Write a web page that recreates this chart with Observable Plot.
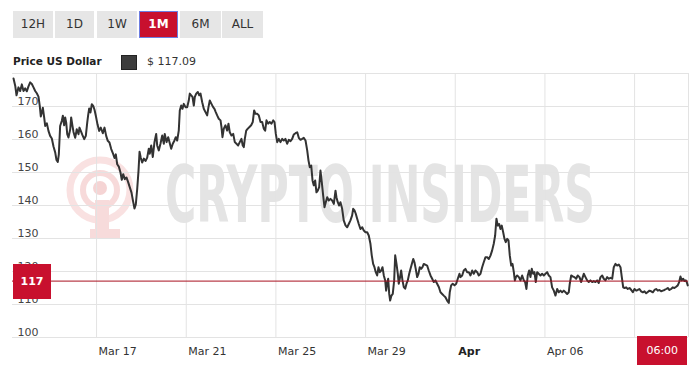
<!DOCTYPE html>
<html><head><meta charset="utf-8">
<script src="https://cdn.jsdelivr.net/npm/d3@7"></script>
<script src="https://cdn.jsdelivr.net/npm/@observablehq/plot@0.6"></script>
<style>
body{margin:0;background:#fff;font-family:"DejaVu Sans",Verdana,sans-serif;}
#wrap{position:relative;width:700px;height:368px;overflow:hidden;background:#fff;}
.btn{position:absolute;top:11px;height:27px;line-height:27px;background:#e6e6e6;color:#333;font-size:12px;text-align:center;box-sizing:border-box;}
.btn.on{background:#c8102e;color:#fff;font-weight:bold;border:1px solid #6d7de0;line-height:25px;}
#legend{position:absolute;left:13px;top:54px;height:16px;font-size:11px;color:#222;}
#legend .t{position:absolute;left:0;top:1px;font-weight:bold;white-space:nowrap;font-size:10.5px;}
#legend .sw{position:absolute;left:108px;top:1px;width:16px;height:15px;background:#3c3c3c;box-sizing:border-box;border:1px solid #222;}
#legend .v{position:absolute;left:134px;top:1px;white-space:nowrap;color:#333;}
#wm{position:absolute;left:0;top:0;}
#chart{position:absolute;left:0;top:73px;}
.tag{position:absolute;background:#c8102e;color:#fff;font-size:11px;text-align:center;}
</style></head>
<body><div id="wrap">
<div class="btn" style="left:13px;width:40px">12H</div>
<div class="btn" style="left:55px;width:39px">1D</div>
<div class="btn" style="left:97px;width:40px">1W</div>
<div class="btn on" style="left:139px;width:39px">1M</div>
<div class="btn" style="left:180px;width:41px">6M</div>
<div class="btn" style="left:222px;width:41px">ALL</div>
<div id="legend"><span class="t">Price US Dollar</span><span class="sw"></span><span class="v"></span></div>
<svg id="wm" width="700" height="368">
  <g opacity="0.42">
    <circle cx="100" cy="190" r="30" fill="none" stroke="#f2b8b8" stroke-width="7"/>
    <circle cx="100" cy="190" r="17" fill="none" stroke="#eea8a8" stroke-width="6"/>
    <circle cx="100" cy="188" r="7" fill="#e99a9a"/>
    <rect x="95" y="200" width="14" height="32" fill="#eeaaaa"/>
    <rect x="90" y="229" width="30" height="9" fill="#eeaaaa"/>
  </g>
  <text transform="translate(165,222) scale(1,1.65)" x="0" y="0" textLength="430" lengthAdjust="spacingAndGlyphs" font-family="DejaVu Sans Condensed, DejaVu Sans" font-weight="bold" font-size="47" fill="#e4e4e4">CRYPTO INSIDERS</text>
</svg>
<div id="chart"></div>
</div>
<script>
// Price series: [hours since 13 Mar 06:00, price in USD]
const series = [
[1.1,178.5],[2.9,176.3],[4.3,173.4],[6.4,175.8],[8.2,174.7],[10.0,176.7],[11.8,174.7],[13.6,175.5],[15.3,174.6],[17.1,176.1],
[18.9,177.3],[20.7,176.8],[22.5,175.8],[24.3,174.7],[26.0,174.0],[27.8,173.0],[29.2,170.2],[30.3,167.0],[31.4,168.2],[32.5,169.6],
[33.9,166.7],[35.0,164.1],[36.8,164.9],[38.5,162.6],[40.3,161.1],[42.1,160.3],[43.9,157.9],[45.7,156.1],[47.1,153.8],[48.5,153.2],
[49.6,155.5],[51.0,164.1],[52.8,165.7],[53.9,167.2],[55.3,164.3],[56.4,166.7],[57.5,165.1],[58.6,161.6],[59.9,160.6],[61.8,163.1],
[62.8,166.7],[64.2,164.1],[65.3,162.3],[67.1,160.5],[68.8,163.1],[70.7,161.6],[71.7,163.6],[73.1,162.6],[74.9,161.3],[76.8,160.1],
[78.5,161.1],[80.0,165.1],[81.0,167.4],[82.1,169.4],[83.5,168.2],[84.9,170.7],[86.4,170.2],[87.8,169.0],[89.2,167.2],[91.0,164.6],
[92.8,162.6],[94.5,163.6],[96.7,161.9],[98.5,163.6],[100.3,161.1],[102.0,159.6],[103.8,159.1],[105.7,157.1],[107.4,155.9],[109.2,154.4],
[110.6,155.5],[112.1,152.5],[113.8,151.8],[115.6,150.0],[117.0,147.8],[118.5,149.5],[120.2,148.0],[122.0,148.5],[123.9,147.0],[125.6,145.5],
[127.4,143.9],[129.2,141.1],[130.6,139.1],[132.0,140.3],[133.5,145.0],[134.9,150.5],[136.0,156.3],[137.3,154.5],[138.8,153.0],[140.6,154.2],
[142.4,153.5],[144.2,154.5],
[145.9,157.2],[147.0,155.7],[148.5,158.2],[150.2,154.7],[152.0,159.2],[153.8,161.7],[154.9,158.2],[156.6,156.7],[158.4,158.7],[160.3,161.2],
[162.0,158.7],[163.0,161.7],[164.9,159.2],[166.7,160.7],[168.1,159.2],[169.9,157.2],[171.6,158.7],[173.4,159.7],[174.8,160.7],[176.3,159.7],
[178.0,162.7],[179.1,168.8],[180.6,170.3],[182.0,169.3],[183.4,170.8],[185.2,169.8],[187.0,169.8],[188.7,171.8],[189.8,173.9],[191.3,173.4],
[192.7,172.9],[194.1,170.3],[195.2,172.9],[196.7,173.9],[198.4,174.4],[199.9,173.4],[201.3,173.9],[203.1,171.3],[204.8,169.3],[206.6,168.3],
[208.4,167.3],[209.8,169.8],[211.2,171.8],[213.0,170.8],[214.8,169.8],[216.2,169.3],[217.6,168.3],[219.1,167.3],[220.8,166.3],[222.7,165.8],
[223.7,163.8],[224.8,160.7],[226.2,163.3],[228.0,164.3],[229.8,162.7],[231.2,164.8],[232.6,162.2],[234.4,161.2],[236.3,161.7],[238.0,159.2],
[239.8,158.7],[241.6,158.2],[243.3,159.2],[245.1,160.2],[246.5,158.2],[247.6,157.7],[248.7,160.2],[250.2,162.7],[251.9,163.3],[253.7,163.8],
[255.5,164.3],[257.2,165.3],[258.7,168.8],[260.1,167.8],[261.9,167.8],[263.7,167.3],[265.5,165.3],[267.3,165.3],[269.0,163.3],[270.5,162.7],
[271.9,165.8],[273.7,164.8],[275.4,165.3],[277.3,164.8],[279.1,165.8],[280.5,165.3],[281.9,161.7],[283.4,159.2],[285.1,160.2],[286.9,159.2],
[288.7,160.2],[290.4,159.7],[292.2,160.2],[294.0,158.7],
[295.8,159.9],[297.6,159.5],[299.4,160.2],[301.1,161.5],[303.0,161.9],[304.8,162.2],[306.5,160.5],[308.3,159.9],[310.1,160.2],[311.8,160.5],
[313.7,159.7],[315.5,156.7],[316.9,153.6],[318.3,151.6],[319.8,152.1],[321.2,147.6],[322.5,146.1],[324.0,147.6],[325.4,144.0],[326.8,144.5],
[328.3,145.6],[329.7,150.6],[331.1,147.1],[332.6,143.0],[334.0,139.5],[335.4,141.0],[336.9,142.5],[338.6,141.5],[340.4,142.0],[342.2,141.5],
[344.0,140.5],[345.8,144.5],[346.8,142.5],[348.2,141.0],[349.7,140.0],[351.1,141.0],[352.9,139.0],[354.6,135.5],[356.5,134.0],[358.3,133.4],
[360.0,134.4],[361.8,135.5],[363.6,137.0],[364.7,139.0],[366.1,138.5],[367.5,137.5],[369.0,136.0],[370.7,134.4],[372.5,132.9],[374.4,133.4],
[376.1,132.4],[377.9,131.9],[379.7,131.9],[381.4,130.9],[383.2,128.4],[384.6,124.9],[386.1,122.3],[387.5,121.3],[388.9,119.8],[390.4,118.8],
[391.8,121.3],[393.2,119.8],[394.7,120.3],[396.1,121.3],[397.5,118.8],[399.0,117.3],[400.0,114.2],[401.1,116.3],[402.2,117.8],[403.3,113.2],
[404.3,111.2],[405.7,112.7],[407.1,113.2],[408.6,117.3],[409.7,124.9],[411.1,122.3],[412.5,119.3],[413.5,116.3],[414.6,117.8],[416.1,120.3],
[417.5,117.3],[418.9,115.3],[420.4,114.8],[421.8,116.3],[423.2,117.3],[424.7,119.3],[426.1,120.8],[427.5,122.3],[429.0,123.8],[430.3,122.8],
[431.7,120.8],[433.2,118.3],[434.6,119.3],[436.0,121.3],[437.5,120.8],[438.9,121.3],[440.3,122.3],
[443.9,121.8],[445.6,120.3],[447.5,118.8],[449.3,117.8],[451.0,116.8],[452.8,117.3],[454.6,116.3],[456.4,115.3],[458.2,113.7],[460.0,113.2],
[461.7,112.7],[463.5,112.2],[465.3,111.2],[467.1,110.5],[468.1,113.7],[469.6,115.8],[471.3,116.3],[473.2,115.8],[475.0,116.3],[476.7,117.8],
[478.5,119.3],[479.6,118.3],[481.4,118.8],[483.1,120.3],[484.9,120.8],[486.7,119.8],[488.5,119.8],[490.3,118.8],[492.1,120.3],[493.8,119.3],
[495.6,120.3],[497.5,119.8],[499.2,118.8],[501.0,119.3],[502.8,121.3],[504.5,122.8],[506.3,124.3],[508.2,124.3],[509.9,123.8],[511.7,124.8],
[513.5,126.4],[515.2,128.4],[516.7,130.9],[518.1,136.0],[519.5,133.9],[521.0,134.4],[522.4,132.9],[523.8,133.9],[525.3,131.9],[526.7,129.9],
[528.1,128.9],[529.6,129.9],[531.0,129.4],[532.4,124.8],[533.9,121.8],[535.3,122.3],[536.7,119.8],[537.8,117.3],[538.9,118.3],[540.3,118.8],
[542.1,118.3],[543.8,117.3],[545.6,118.8],[547.4,117.3],[548.8,116.8],[550.2,114.7],[551.6,118.8],[553.1,120.3],[554.5,118.3],[555.9,120.8],
[557.4,119.3],[558.8,119.8],[560.2,116.8],[561.7,119.8],[563.4,119.3],[565.2,118.8],[567.0,119.3],[568.8,118.8],[570.6,119.3],[572.4,119.8],
[574.1,118.8],
[575.9,118.3],[577.7,115.2],[579.5,114.2],[581.3,112.7],[583.1,114.7],[584.8,113.7],[586.6,114.2],[588.4,113.7],[590.2,114.2],[592.0,113.7],
[593.8,113.2],[595.5,113.7],[596.6,116.3],[598.1,118.8],[599.8,118.5],[601.6,118.3],[603.4,117.8],[605.1,118.8],[607.0,118.3],[608.8,116.8],
[610.5,118.3],[611.6,119.3],[613.4,118.3],[615.2,117.3],[616.9,116.8],[618.7,117.3],[620.6,116.8],[622.3,117.1],[624.1,116.8],[625.9,117.3],
[627.6,116.5],[629.5,118.3],[631.3,118.8],[633.0,117.8],[634.8,117.3],[636.6,118.3],[638.4,117.8],[640.2,118.1],[642.0,117.8],[643.7,121.3],
[645.5,122.3],[647.3,121.8],[649.1,122.1],[650.9,121.3],[652.3,118.3],[653.8,115.2],[655.2,115.0],[657.0,115.2],[658.7,114.7],[660.6,115.0],
[662.4,114.4],[664.1,113.7],[665.9,114.7],[667.7,114.2],[669.4,114.4],[671.2,114.7],[673.0,114.0],[674.8,113.7],[676.6,114.0],[678.4,113.4],
[680.1,113.8],[681.9,114.2],[683.7,114.0],[685.5,113.7],[687.3,114.4],[689.1,114.7],[690.8,114.2],[692.6,114.4],[694.4,114.0],[696.2,114.2],
[698.0,114.4],[699.8,114.7],[701.5,115.0],[703.3,114.4],[705.1,114.7],[706.8,115.2],[708.6,115.0],[710.5,115.4],[712.2,115.8],[713.7,116.8],
[715.1,118.5],[716.5,117.3],[718.0,117.8],[719.4,117.1],[720.8,117.3],[721.8,116.8],[722.9,115.8]
];
const lastPrice = 117.09;
const lastTimeLabel = "06:00";
const gridDates = ["2022-03-17","2022-03-21","2022-03-25","2022-03-29","2022-04-02","2022-04-06","2022-04-10"];
const tickLabels = ["Mar 17","Mar 21","Mar 25","Mar 29","Apr","Apr 06",""];
const yTicks = [100,110,120,130,140,150,160,170];
const yGrid = [100,110,120,130,140,150,160,170,180];

const t0 = Date.UTC(2022, 2, 13, 6);
const HOUR = 3600e3;
const rangeHours = 723.7;
const rows = series.map(([h, p]) => ({t: new Date(t0 + h * HOUR), p}));
const xTicks = gridDates.map((d, i) => ({d: new Date(d + "T00:00:00Z"), label: tickLabels[i]}));
const xStart = new Date(t0), xEnd = new Date(t0 + rangeHours * HOUR);

document.querySelector("#legend .v").textContent = "$ " + lastPrice.toFixed(2);

const chart = Plot.plot({
  width: 700, height: 295,
  marginTop: 0, marginBottom: 31, marginLeft: 12, marginRight: 12,
  style: {background: "none", fontFamily: "DejaVu Sans, Verdana, sans-serif", fontSize: "11px", overflow: "visible"},
  x: {type: "utc", domain: [xStart, xEnd], axis: null},
  y: {domain: [100, 180], axis: null},
  marks: [
    Plot.ruleY(yGrid, {stroke: "#e3e3e3", strokeWidth: 1}),
    Plot.ruleX(xTicks, {x: "d", stroke: "#e3e3e3", strokeWidth: 1}),
    Plot.ruleX([xEnd], {stroke: "#e3e3e3", strokeWidth: 1}),
    Plot.text(yTicks, {x: xStart, y: d => d, text: d => String(d), textAnchor: "start", dx: 5, dy: -5, fill: "#444", fontSize: 11}),
    Plot.text(xTicks.filter(d => d.label !== "Apr"), {x: "d", y: () => 100, text: "label", textAnchor: "start", dx: 2, dy: 14, fill: "#333", fontSize: 11}),
    Plot.text(xTicks.filter(d => d.label === "Apr"), {x: "d", y: () => 100, text: "label", textAnchor: "start", dx: 3, dy: 14, fill: "#222", fontSize: 11, fontWeight: "bold"}),
    Plot.line(rows, {x: "t", y: "p", stroke: "#333", strokeWidth: 2, strokeLinejoin: "round"}),
    Plot.ruleY([lastPrice], {stroke: "#a8101f", strokeWidth: 1})
  ]
});
document.getElementById("chart").appendChild(chart);

const ys = chart.scale("y"), xs = chart.scale("x");
const wrap = document.getElementById("wrap");
const yPix = 73 + ys.apply(lastPrice);
const priceTag = document.createElement("div");
priceTag.className = "tag";
priceTag.style.cssText = `left:13px;width:38px;top:${yPix - 17}px;height:35px;line-height:35px;font-weight:bold;`;
priceTag.textContent = String(Math.round(lastPrice));
wrap.appendChild(priceTag);

const xRight = xs.apply(rows[rows.length - 1].t);
const timeTag = document.createElement("div");
timeTag.className = "tag";
timeTag.style.cssText = `left:${xRight - 50}px;width:50px;top:${73 + ys.apply(100) - 1}px;height:29px;line-height:29px;`;
timeTag.textContent = lastTimeLabel;
wrap.appendChild(timeTag);
</script>
</body></html>
